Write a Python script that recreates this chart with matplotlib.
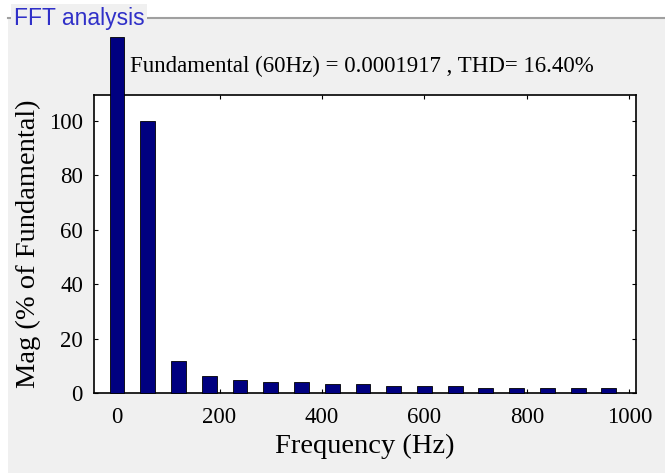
import matplotlib
matplotlib.use("Agg")
import matplotlib.pyplot as plt
from matplotlib.patches import Rectangle
from matplotlib.lines import Line2D

# harmonic spectrum (% of fundamental)
freqs = [0, 60, 120, 180, 240, 300, 360, 420, 480, 540, 600, 660, 720, 780, 840, 900, 960]
mags = [130.6, 100, 11.7, 6.2, 4.8, 4.0, 4.0, 3.3, 3.2, 2.6, 2.6, 2.6, 1.8, 1.8, 1.8, 1.8, 1.8]
xticks = [0, 200, 400, 600, 800, 1000]
yticks = [0, 20, 40, 60, 80, 100]
title_txt = "Fundamental (60Hz) = 0.0001917 , THD= 16.40%"

W, H = 665, 473
fig = plt.figure(figsize=(W / 100, H / 100), dpi=100, facecolor="white")

# grey panel with etched border on top
fig.patches.append(Rectangle((8 / W, 0), 1 - 8 / W, 1 - 18 / H, transform=fig.transFigure,
                             facecolor="#f0f0f0", edgecolor="none", zorder=-10))
fig.lines.append(Line2D([8 / W, 1], [1 - 18 / H, 1 - 18 / H], transform=fig.transFigure,
                        color="#a0a0a0", lw=1.5, zorder=-5))
fig.text(14 / W, 1 - 18 / H, "FFT analysis", color="#3030c8", fontsize=16.5,
         family="Liberation Sans", va="center", ha="left",
         bbox=dict(facecolor="#f0f0f0", edgecolor="none", pad=2), zorder=2)

ax = fig.add_axes([94 / W, 1 - 393 / H, (636 - 94) / W, (393 - 95) / H])
ax.set_facecolor("white")
bars = ax.bar(freqs, mags, width=29, color="#000080", edgecolor="black", linewidth=0.6, zorder=3)
for b in bars:
    b.set_clip_on(False)

ax.set_xlim(-45, 1013)
ax.set_ylim(0, 109.4)
ax.set_xticks(xticks)
ax.set_yticks(yticks)
ax.tick_params(direction="in", length=3, top=True, right=True, labelsize=16.5)
ax.tick_params(axis="x", pad=10)
ax.tick_params(axis="y", pad=8)
for lab in ax.get_xticklabels() + ax.get_yticklabels():
    lab.set_family("Liberation Serif")
for s in ax.spines.values():
    s.set_linewidth(1.2)

ax.set_xlabel("Frequency (Hz)", fontsize=20.5, family="Liberation Serif", labelpad=4)
ax.set_ylabel("Mag (% of Fundamental)", fontsize=20.5, family="Liberation Serif", labelpad=6)
fig.text(362 / W, 1 - 66 / H, title_txt, fontsize=16.5, family="Liberation Serif",
         ha="center", va="center")

fig.savefig("out.png", dpi=100)
